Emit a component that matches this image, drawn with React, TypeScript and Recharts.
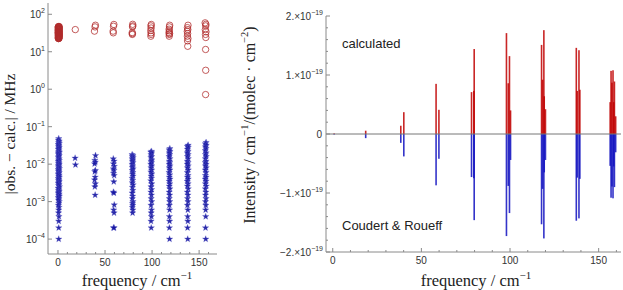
import { ScatterChart, Scatter, XAxis, YAxis, BarChart, Bar, ReferenceLine } from "recharts";

// frequency axis (cm^-1), shared by both panels
const freqTicks = [0, 10, 20, 30, 40, 50, 60, 70, 80, 90, 100, 110, 120, 130, 140, 150, 160];
const freqLabels = [0, 50, 100, 150];

// |obs - calc| axis (MHz), log
const diffTicks = [1e-4, 1e-3, 1e-2, 1e-1, 1, 10, 100];

// intensity axis, in units of 1e-19 cm^-1/(molec cm^-2)
const intensityTicks = [-2, -1.8, -1.6, -1.4, -1.2, -1, -0.8, -0.6, -0.4, -0.2, 0, 0.2, 0.4, 0.6, 0.8, 1, 1.2, 1.4, 1.6, 1.8, 2];

// red open circles: [frequency, |obs - calc| MHz]
const circleDiffs: [number, number][] = [
  [0.3, 46], [0.6, 44], [0.9, 42], [1.2, 45], [0.4, 40], [0.8, 38], [1.1, 36], [0.5, 34], [0.7, 33], [1.0, 31],
  [0.3, 30], [0.9, 29], [1.3, 28], [0.6, 27], [0.4, 26], [1.0, 25.5], [0.8, 24.5], [0.5, 23.5], [1.2, 23], [0.7, 22.5],
  [0.2, 37], [1.3, 39], [0.6, 41], [1.1, 43], [0.9, 35], [0.4, 32], [1.2, 30], [0.7, 28.5], [1.0, 26.5], [0.3, 24],
  [0.5, 47], [0.9, 46.5], [1.3, 47], [0.2, 43], [0.7, 39.5], [1.1, 40.5], [0.4, 37.5], [1.3, 35], [0.6, 35.5], [0.2, 33],
  [1.0, 33.5], [0.5, 31.5], [1.2, 32], [0.8, 30.5], [0.3, 28], [1.1, 27.5], [0.6, 25], [1.3, 25], [0.9, 23], [0.4, 22.5],
  [18.4, 39],
  [39.8, 51], [39.4, 46], [38.8, 35.5],
  [59.4, 53.5], [59.0, 48], [58.6, 35.5], [58.8, 32],
  [79.4, 54], [79.6, 49], [79.2, 46], [78.9, 32.5], [79.0, 29], [79.1, 30.5],
  [99.2, 53.5], [98.8, 49], [99.0, 43], [98.6, 37], [98.9, 32], [99.1, 29], [98.7, 26],
  [118.7, 51], [118.5, 46], [118.1, 40], [118.4, 36], [118.0, 32.5], [118.6, 30.5], [118.3, 29], [118.2, 26],
  [138.2, 51], [137.6, 44], [138.0, 39], [137.4, 35], [137.8, 30.5], [137.5, 26], [138.1, 22.5], [137.7, 19.5], [137.9, 14],
  [156.4, 59], [157.2, 54], [157.0, 49], [156.6, 39], [157.3, 34], [156.8, 29], [157.1, 24], [156.9, 11.5], [157.0, 3.2], [156.9, 0.72],
];

// blue stars: [frequency, |obs - calc| MHz]
const starDiffs: [number, number][] = [
  [0.8, 0.048], [0.4, 0.044], [1.2, 0.041], [0.7, 0.038], [1.4, 0.036], [0.3, 0.034], [1.0, 0.032], [0.6, 0.03], [1.3, 0.028], [0.9, 0.027],
  [0.4, 0.025], [1.1, 0.024], [0.7, 0.022], [1.5, 0.021], [0.3, 0.02], [1.0, 0.019], [0.6, 0.018], [1.3, 0.017], [0.8, 0.016], [0.4, 0.015],
  [1.2, 0.014], [0.7, 0.013], [1.4, 0.0125], [0.3, 0.012], [1.0, 0.011], [0.6, 0.0105], [1.3, 0.01], [0.9, 0.0095], [0.4, 0.009], [1.1, 0.0085],
  [0.7, 0.008], [1.5, 0.0076], [0.3, 0.0072], [1.0, 0.0068], [0.6, 0.0064], [1.3, 0.006], [0.8, 0.0057], [0.4, 0.0054], [1.2, 0.0051], [0.7, 0.0048],
  [1.4, 0.0045], [0.3, 0.0042], [1.0, 0.004], [0.6, 0.0037], [1.3, 0.0035], [0.9, 0.0033], [0.4, 0.0031], [1.1, 0.0029], [0.7, 0.0027], [1.5, 0.0025],
  [0.3, 0.0023], [1.0, 0.0022], [0.6, 0.002], [1.3, 0.0019], [0.8, 0.0018], [0.4, 0.0017], [1.2, 0.0016], [0.7, 0.0015], [1.4, 0.0014], [0.3, 0.0013],
  [1.0, 0.0012], [0.6, 0.0011], [1.3, 0.001], [0.9, 0.0009], [0.5, 0.0008], [1.1, 0.0007], [0.8, 0.0006], [0.6, 0.0005], [1.0, 0.0004], [0.8, 0.0003],
  [0.8, 0.0002], [0.8, 0.0001],
  [18.2, 0.0145], [18.6, 0.0096],
  [39.9, 0.017], [39.2, 0.0126], [39.6, 0.0113], [38.9, 0.0102], [39.7, 0.0068], [39.1, 0.0063], [39.5, 0.0045], [38.9, 0.0038], [39.7, 0.003], [39.2, 0.0025], [39.5, 0.0015],
  [58.8, 0.0139], [59.6, 0.012], [59.0, 0.0102], [59.8, 0.0087], [58.9, 0.0075], [59.5, 0.0068], [59.1, 0.0057], [59.7, 0.005], [59.3, 0.0034],
  [58.9, 0.0018], [59.4, 0.0017], [59.8, 0.00082], [59.2, 0.0006], [59.6, 0.0005], [59.0, 0.0002], [59.6, 0.0002],
  [78.8, 0.018], [79.6, 0.017], [79.0, 0.016], [79.8, 0.015], [78.9, 0.014], [79.5, 0.013], [79.1, 0.012], [79.7, 0.011], [78.8, 0.01], [79.4, 0.009],
  [79.0, 0.0082], [79.8, 0.0075], [78.9, 0.0068], [79.6, 0.006], [79.2, 0.0054], [79.7, 0.0048], [78.8, 0.0042], [79.5, 0.0037], [79.0, 0.0032], [79.8, 0.0028],
  [79.1, 0.0024], [79.6, 0.002], [78.9, 0.0017], [79.4, 0.0014], [79.0, 0.0012], [79.7, 0.001], [79.2, 0.0009], [79.5, 0.0008], [79.0, 0.0007], [79.6, 0.0006], [79.3, 0.0005],
  [99.4, 0.022], [98.7, 0.021], [99.6, 0.02], [98.9, 0.018], [99.5, 0.016], [98.8, 0.015], [99.7, 0.013], [99.0, 0.012], [99.4, 0.011], [98.7, 0.01],
  [99.6, 0.009], [98.9, 0.008], [99.5, 0.007], [98.8, 0.0062], [99.7, 0.0055], [99.0, 0.0048], [99.4, 0.0042], [98.7, 0.0036], [99.6, 0.003], [98.9, 0.0025],
  [99.5, 0.0021], [98.8, 0.0018], [99.3, 0.0015], [99.0, 0.0012], [99.6, 0.001], [98.9, 0.0008], [99.4, 0.0006], [99.0, 0.0005], [99.3, 0.0004], [98.9, 0.0003], [99.1, 0.0002],
  [118.9, 0.026], [118.2, 0.024], [119.0, 0.022], [118.3, 0.02], [118.8, 0.018], [118.1, 0.016], [119.0, 0.014], [118.4, 0.012], [118.8, 0.011], [118.2, 0.01],
  [119.0, 0.009], [118.3, 0.008], [118.9, 0.007], [118.1, 0.006], [118.8, 0.0052], [118.4, 0.0045], [119.0, 0.004], [118.2, 0.0035], [118.8, 0.003], [118.3, 0.0026],
  [118.9, 0.0022], [118.2, 0.0018], [118.7, 0.0015], [118.3, 0.0012], [118.8, 0.001], [118.4, 0.0008], [118.6, 0.0006], [118.4, 0.0004], [118.6, 0.0003], [118.4, 0.0002], [118.6, 0.0001],
  [138.3, 0.032], [137.5, 0.03], [138.4, 0.028], [137.6, 0.025], [138.2, 0.022], [137.4, 0.02], [138.3, 0.018], [137.6, 0.016], [138.4, 0.014], [137.5, 0.012],
  [138.2, 0.011], [137.4, 0.01], [138.3, 0.009], [137.6, 0.008], [138.4, 0.007], [137.5, 0.006], [138.2, 0.005], [137.6, 0.0045], [138.3, 0.004], [137.4, 0.0035],
  [138.2, 0.003], [137.6, 0.0026], [138.4, 0.0022], [137.5, 0.0018], [138.1, 0.0015], [137.7, 0.0012], [138.2, 0.001], [137.6, 0.0008], [138.0, 0.0006], [137.8, 0.0004],
  [138.0, 0.0003], [137.7, 0.0002], [137.9, 0.0001],
  [157.4, 0.038], [156.6, 0.035], [157.5, 0.032], [156.7, 0.029], [157.3, 0.026], [156.5, 0.023], [157.4, 0.02], [156.7, 0.018], [157.5, 0.016], [156.6, 0.014],
  [157.3, 0.012], [156.5, 0.011], [157.4, 0.01], [156.7, 0.009], [157.5, 0.008], [156.6, 0.007], [157.3, 0.006], [156.7, 0.005], [157.4, 0.0045], [156.5, 0.004],
  [157.3, 0.0035], [156.7, 0.003], [157.5, 0.0026], [156.6, 0.0022], [157.2, 0.0018], [156.8, 0.0015], [157.3, 0.0012], [156.7, 0.001], [157.1, 0.0008], [156.9, 0.0006],
  [157.0, 0.0004], [156.8, 0.0002], [157.0, 0.0001],
];

// stick spectrum: frequency, calculated (up), Coudert & Roueff (down), in 1e-19 units
const stickFreq = [0.8, 18.6, 38.4, 40.1, 58.3, 59.9, 78.3, 79.6, 79.8, 98.0, 99.0, 99.7, 100.3, 117.8, 118.4, 119.1, 119.3, 120.0, 137.4, 137.9, 138.9, 139.4, 156.5, 157.0, 157.5, 158.1, 158.5, 158.9, 159.6];
const stickCalc = [0.01, 0.056, 0.14, 0.37, 0.85, 0.41, 0.71, 0.73, 1.44, 1.71, 0.86, 1.32, 0.4, 1.51, 0.92, 1.76, 0.64, 0.42, 1.46, 0.73, 1.42, 0.75, 0.54, 1.07, 0.87, 1.08, 0.54, 0.89, 0.3];
const stickObs = [-0.01, -0.07, -0.15, -0.38, -0.87, -0.42, -0.73, -0.75, -1.46, -1.73, -0.88, -1.34, -0.44, -1.53, -0.93, -1.77, -0.65, -0.44, -1.47, -0.74, -1.43, -0.76, -0.54, -1.08, -0.89, -1.09, -0.55, -0.9, -0.31];

const sticks = stickFreq.map((f, i) => ({ f, calc: stickCalc[i], obs: stickObs[i] }));
const circleData = circleDiffs.map(([f, v]) => ({ f, v }));
const starData = starDiffs.map(([f, v]) => ({ f, v }));

const GRAY = "#8a8a8a";
const SANS = "Liberation Sans, Arial, sans-serif";
const SERIF = "Liberation Serif, Times New Roman, serif";

function FreqTick(props: any) {
  const { x, y, payload, top } = props;
  const major = freqLabels.includes(payload.value);
  const len = major ? 4 : 2;
  const dir = top ? 1 : -1;
  return (
    <g>
      <line x1={x} x2={x} y1={y} y2={y + dir * len} stroke={GRAY} />
      {!top && major && (
        <text x={x} y={y + 12} textAnchor="middle" fontSize={10} fontFamily={SANS} fill="#333">
          {payload.value}
        </text>
      )}
    </g>
  );
}

function DiffTick(props: any) {
  const { x, y, payload, right } = props;
  const dir = right ? -1 : 1;
  const e = Math.round(Math.log10(payload.value));
  return (
    <g>
      <line x1={x} x2={x + dir * 4} y1={y} y2={y} stroke={GRAY} />
      {!right && (
        <text x={x - 3} y={y + 4} textAnchor="end" fontSize={10} fontFamily={SANS} fill="#333">
          10<tspan dy={-5} fontSize={7}>{e < 0 ? `−${-e}` : e}</tspan>
        </text>
      )}
    </g>
  );
}

function IntensityTick(props: any) {
  const { x, y, payload, right } = props;
  const n = payload.value;
  const major = Math.abs(n - Math.round(n)) < 1e-6;
  const dir = right ? -1 : 1;
  const len = major ? 4 : 2;
  let label = null;
  if (!right && major) {
    label =
      Math.round(n) === 0 ? (
        <text x={x - 4} y={y + 3.5} textAnchor="end" fontSize={10} fontFamily={SANS} fill="#333">0</text>
      ) : (
        <text x={x - 3} y={y + 4} textAnchor="end" fontSize={10} fontFamily={SANS} fill="#333">
          {n < 0 ? "−" : ""}{Math.abs(Math.round(n))}.×10<tspan dy={-5} fontSize={7}>−19</tspan>
        </text>
      );
  }
  return (
    <g>
      <line x1={x} x2={x + dir * len} y1={y} y2={y} stroke={GRAY} />
      {label}
    </g>
  );
}

function OpenCircle(props: any) {
  return <circle cx={props.cx} cy={props.cy} r={3.2} fill="none" stroke="#b02a2a" strokeWidth={0.9} strokeOpacity={0.85} />;
}

function Star(props: any) {
  const { cx, cy } = props;
  const pts: string[] = [];
  for (let k = 0; k < 10; k++) {
    const r = k % 2 === 0 ? 3.4 : 1.4;
    const a = -Math.PI / 2 + (k * Math.PI) / 5;
    pts.push(`${cx + r * Math.cos(a)},${cy + r * Math.sin(a)}`);
  }
  return <polygon points={pts.join(" ")} fill="#1414a0" fillOpacity={0.9} stroke="#5a5ac8" strokeWidth={0.3} />;
}

// thin stick centred on the bar slot Recharts computes
function Stick(props: any) {
  const { x, y, width, height, fill } = props;
  if (x == null || y == null || !height) return null;
  const top = Math.min(y, y + height);
  return <rect x={x + width / 2 - 0.8} y={top} width={1.6} height={Math.abs(height)} fill={fill} fillOpacity={0.85} />;
}

export default function App() {
  return (
    <div style={{ position: "absolute", left: 0, top: 0, width: 623, height: 290, background: "#fff" }}>
      {/* left panel: residuals */}
      <div style={{ position: "absolute", left: 0, top: 0 }}>
        <ScatterChart width={225} height={290} margin={{ top: 3, right: 8, bottom: 0, left: 0 }}>
          <XAxis xAxisId="b" type="number" dataKey="f" domain={[-10.6, 169]} ticks={freqTicks} allowDataOverflow
            height={36} tickSize={0} tickMargin={0} axisLine={{ stroke: GRAY }} tick={(p: any) => <FreqTick {...p} />} interval={0} />
          <XAxis xAxisId="t" orientation="top" type="number" dataKey="f" domain={[-10.6, 169]} ticks={freqTicks} allowDataOverflow
            height={0} tickSize={0} tickMargin={0} axisLine={{ stroke: GRAY }} tick={(p: any) => <FreqTick {...p} top />} interval={0} />
          <YAxis yAxisId="l" type="number" dataKey="v" scale="log" domain={[4e-5, 200]} ticks={diffTicks} allowDataOverflow
            width={48} tickSize={0} tickMargin={0} axisLine={{ stroke: GRAY }} tick={(p: any) => <DiffTick {...p} />} interval={0} />
          <YAxis yAxisId="r" orientation="right" type="number" dataKey="v" scale="log" domain={[4e-5, 200]} ticks={diffTicks} allowDataOverflow
            width={0} tickSize={0} tickMargin={0} axisLine={{ stroke: GRAY }} tick={(p: any) => <DiffTick {...p} right />} interval={0} />
          <Scatter xAxisId="b" yAxisId="l" data={circleData} shape={(p: any) => <OpenCircle {...p} />} isAnimationActive={false} />
          <Scatter xAxisId="b" yAxisId="l" data={starData} shape={(p: any) => <Star {...p} />} isAnimationActive={false} />
        </ScatterChart>
      </div>

      {/* right panel: stick spectrum */}
      <div style={{ position: "absolute", left: 225, top: 0 }}>
        <BarChart width={398} height={290} data={sticks} stackOffset="sign" barSize={1}
          margin={{ top: 16, right: 2, bottom: 0, left: 0 }}>
          <XAxis xAxisId="b" type="number" dataKey="f" domain={[-3.8, 162.6]} ticks={freqTicks} allowDataOverflow
            height={38} tickSize={0} tickMargin={0} axisLine={{ stroke: GRAY }} tick={(p: any) => <FreqTick {...p} />} interval={0} />
          <XAxis xAxisId="t" orientation="top" type="number" dataKey="f" domain={[-3.8, 162.6]} ticks={freqTicks} allowDataOverflow
            height={0} tickSize={0} tickMargin={0} axisLine={{ stroke: GRAY }} tick={(p: any) => <FreqTick {...p} top />} interval={0} />
          <YAxis yAxisId="l" type="number" domain={[-2, 2]} ticks={intensityTicks} allowDataOverflow
            width={101} tickSize={0} tickMargin={0} axisLine={{ stroke: GRAY }} tick={(p: any) => <IntensityTick {...p} />} interval={0} />
          <YAxis yAxisId="r" orientation="right" type="number" domain={[-2, 2]} ticks={intensityTicks} allowDataOverflow
            width={0} tickSize={0} tickMargin={0} axisLine={{ stroke: GRAY }} tick={(p: any) => <IntensityTick {...p} right />} interval={0} />
          <ReferenceLine xAxisId="b" yAxisId="l" y={0} stroke="#777" strokeWidth={1} />
          <Bar xAxisId="b" yAxisId="l" dataKey="calc" stackId="s" fill="#c00000" shape={(p: any) => <Stick {...p} />} isAnimationActive={false} />
          <Bar xAxisId="b" yAxisId="l" dataKey="obs" stackId="s" fill="#1010c0" shape={(p: any) => <Stick {...p} />} isAnimationActive={false} />
        </BarChart>
      </div>

      {/* in-plot annotations */}
      <div style={{ position: "absolute", left: 342, top: 36, fontFamily: SANS, fontSize: 13, color: "#222", whiteSpace: "nowrap" }}>
        calculated
      </div>
      <div style={{ position: "absolute", left: 342, top: 218, fontFamily: SANS, fontSize: 13, color: "#222", whiteSpace: "nowrap" }}>
        Coudert &amp; Roueff
      </div>

      {/* axis titles */}
      <div style={{ position: "absolute", left: 10, top: 134, transform: "translate(-50%, -50%) rotate(-90deg)",
        fontFamily: SERIF, fontSize: 15.5, color: "#222", whiteSpace: "nowrap", lineHeight: 1 }}>
        |obs. − calc.| / MHz
      </div>
      <div style={{ position: "absolute", left: 249, top: 125, transform: "translate(-50%, -50%) rotate(-90deg)",
        fontFamily: SERIF, fontSize: 16, color: "#222", whiteSpace: "nowrap", lineHeight: 1 }}>
        Intensity / cm<sup style={{ fontSize: 10.5 }}>−1</sup>/(molec · cm<sup style={{ fontSize: 10.5 }}>−2</sup>)
      </div>
      <div style={{ position: "absolute", left: 137, top: 270, transform: "translateX(-50%)",
        fontFamily: SERIF, fontSize: 16.5, color: "#222", whiteSpace: "nowrap", lineHeight: 1 }}>
        frequency / cm<sup style={{ fontSize: 11 }}>−1</sup>
      </div>
      <div style={{ position: "absolute", left: 476, top: 270, transform: "translateX(-50%)",
        fontFamily: SERIF, fontSize: 16.5, color: "#222", whiteSpace: "nowrap", lineHeight: 1 }}>
        frequency / cm<sup style={{ fontSize: 11 }}>−1</sup>
      </div>
    </div>
  );
}
